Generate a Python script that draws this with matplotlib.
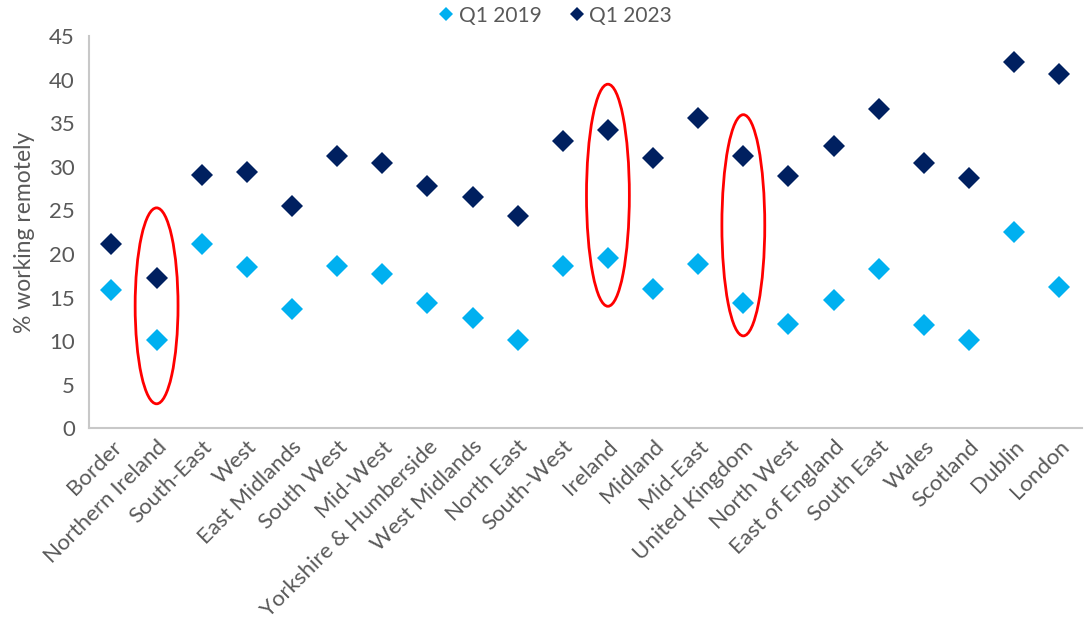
import matplotlib.pyplot as plt
from matplotlib.patches import Ellipse
from matplotlib.lines import Line2D

# regions and share of workers working remotely (%)
regions = ["Border", "Northern Ireland", "South-East", "West", "East Midlands",
           "South West", "Mid-West", "Yorkshire & Humberside", "West Midlands",
           "North East", "South-West", "Ireland", "Midland", "Mid-East",
           "United Kingdom", "North West", "East of England", "South East",
           "Wales", "Scotland", "Dublin", "London"]
q1_2019 = [15.9, 10.1, 21.1, 18.5, 13.7, 18.6, 17.7, 14.4, 12.7, 10.1, 18.6,
           19.6, 16.0, 18.9, 14.4, 12.0, 14.7, 18.3, 11.9, 10.1, 22.5, 16.2]
q1_2023 = [21.1, 17.3, 29.1, 29.4, 25.5, 31.3, 30.4, 27.8, 26.5, 24.4, 33.0,
           34.2, 31.0, 35.6, 31.3, 29.0, 32.4, 36.7, 30.4, 28.7, 42.1, 40.7]

# highlighted regions: (name, low, high)
highlights = [("Northern Ireland", 2.8, 25.3),
              ("Ireland", 14.0, 39.5),
              ("United Kingdom", 10.6, 36.0)]

light = "#00B0F0"
dark = "#002060"
grey = "#595959"

plt.rcParams['font.family'] = ['Lato', 'DejaVu Sans']

fig = plt.figure(figsize=(10.84, 6.26), dpi=100)
ax = fig.add_axes([0.082, 0.316, 0.916, 0.626])

x = list(range(len(regions)))
ax.plot(x, q1_2019, ls="none", marker="D", ms=11.5, mew=0, color=light)
ax.plot(x, q1_2023, ls="none", marker="D", ms=11.5, mew=0, color=dark)

for name, lo, hi in highlights:
    i = regions.index(name)
    ax.add_patch(Ellipse((i, (lo + hi) / 2), 0.95, hi - lo, fill=False,
                         edgecolor="#FF0000", lw=2, zorder=3))

ax.set_xlim(-0.5, len(regions) - 0.5)
ax.set_ylim(0, 45)
ax.set_yticks(range(0, 46, 5))
ax.set_xticks(x)
ax.set_xticklabels(regions, rotation=45, ha="right", va="top",
                   rotation_mode="anchor", fontsize=16, color=grey)
ax.tick_params(axis="y", labelsize=16, labelcolor=grey, length=0, pad=10)
ax.tick_params(axis="x", length=0, pad=6)
ax.set_ylabel("% working remotely", fontsize=16.5, color=grey, labelpad=10)

for side in ["top", "right"]:
    ax.spines[side].set_visible(False)
for side in ["left", "bottom"]:
    ax.spines[side].set_color("#C8C8C8")
    ax.spines[side].set_linewidth(1.5)

handles = [Line2D([], [], ls="none", marker="D", ms=7.5, mew=0, color=light),
           Line2D([], [], ls="none", marker="D", ms=7.5, mew=0, color=dark)]
fig.legend(handles, ["Q1 2019", "Q1 2023"], loc="center", ncol=2,
           bbox_to_anchor=(0.511, 0.975), frameon=False, fontsize=15,
           labelcolor=grey, handletextpad=0.1, columnspacing=1.2,
           handlelength=1.0)

fig.savefig("out.png", dpi=100)
